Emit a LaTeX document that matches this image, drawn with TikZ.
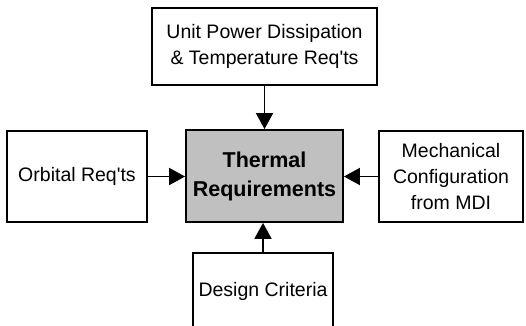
\documentclass[tikz,border=0pt]{standalone}
\usepackage{fontspec}
\setmainfont{Liberation Sans}
\usetikzlibrary{arrows.meta}
\definecolor{boxgray}{HTML}{C0C0C0}
\tikzset{
  box/.style={draw=black, line width=1.8pt, fill=white, align=center, inner sep=0pt,
    font=\fontsize{19.5}{26}\selectfont},
  mainbox/.style={box, fill=boxgray, font=\fontsize{21.5}{29}\selectfont\bfseries},
  conn/.style={line width=1.8pt, -{Triangle[length=16pt,width=17pt]}}
}
\begin{document}
\begin{tikzpicture}[x=1pt,y=-1pt]
\useasboundingbox (0,0) rectangle (526,325);
\clip (0,0) rectangle (526,325);
\node[box, minimum width=225pt, minimum height=77pt] (top) at (264.5,46.5) {Unit Power Dissipation\\\& Temperature Req\textquotesingle ts};
\node[mainbox, minimum width=157pt, minimum height=92pt] (main) at (264.5,176) {Thermal\\Requirements};
\node[box, minimum width=140pt, minimum height=91pt] (left) at (77,176.5) {Orbital Req\textquotesingle ts};
\node[box, minimum width=144pt, minimum height=91pt] (right) at (451,176.5) {Mechanical\\Configuration\\from MDI};
\node[box, minimum width=140pt, minimum height=76pt] (bottom) at (263,291) {Design Criteria};
\draw[conn] (top.south) -- (main.north);
\draw[conn] (left.east) -- (left.east -| main.west);
\draw[conn] (right.west) -- (right.west -| main.east);
\draw[conn] (bottom.north) -- (bottom.north |- main.south);
\end{tikzpicture}
\end{document}
